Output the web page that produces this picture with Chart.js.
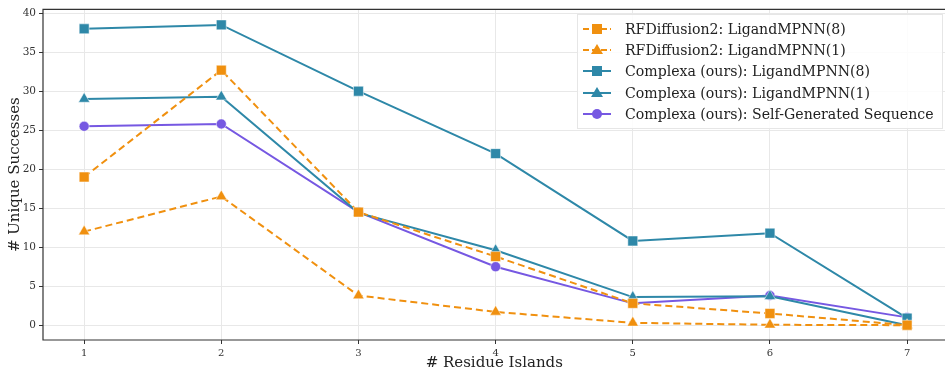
<!DOCTYPE html>
<html>
<head>
<meta charset="utf-8">
<script src="https://cdn.jsdelivr.net/npm/chart.js@4.4.0/dist/chart.umd.min.js"></script>
<style>
  body { margin: 0; background: #fff; overflow: hidden; }
  #wrap { position: relative; width: 945px; height: 372px; overflow: hidden; }
  #legend {
    position: absolute; left: 577px; top: 14px; width: 366px;
    border: 1px solid #e6e6e6; background: rgba(255,255,255,0.85);
    font-family: 'DejaVu Serif', serif; font-size: 14.1px; color: #222;
    padding: 3px 0 4px 0; box-sizing: border-box; white-space: nowrap;
  }
  #legend .row { display: flex; align-items: center; height: 21.3px; }
  #legend svg { margin-left: 5px; margin-right: 14px; }
</style>
</head>
<body>
<div id="wrap">
  <!-- canvas a bit wider than the window: the plot runs off the right edge -->
  <canvas id="chart" width="953" height="372"></canvas>
  <div id="legend"></div>
</div>
<script>
const islands = [1, 2, 3, 4, 5, 6, 7];
const yTicks = [0, 5, 10, 15, 20, 25, 30, 35, 40];

const rfdLmpnn8 = [19.0, 32.7, 14.5, 8.8, 2.8, 1.5, 0.0];
const rfdLmpnn1 = [12.0, 16.5, 3.8, 1.7, 0.3, 0.05, 0.0];
const cxLmpnn8 = [38.0, 38.5, 30.0, 22.0, 10.8, 11.8, 0.9];
const cxLmpnn1 = [29.0, 29.3, 14.4, 9.6, 3.6, 3.7, 0.0];
const cxSelf = [25.5, 25.8, 14.5, 7.5, 2.8, 3.8, 1.0];

const seriesNames = [
  'RFDiffusion2: LigandMPNN(8)',
  'RFDiffusion2: LigandMPNN(1)',
  'Complexa (ours): LigandMPNN(8)',
  'Complexa (ours): LigandMPNN(1)',
  'Complexa (ours): Self-Generated Sequence'
];

const orange = '#f0900f';
const teal = '#2e88a8';
const purple = '#7658e2';

const styles = [
  { color: orange, dash: [7, 4], point: 'rect', r: 7 },
  { color: orange, dash: [7, 4], point: 'triangle', r: 6.5 },
  { color: teal, dash: [], point: 'rect', r: 7 },
  { color: teal, dash: [], point: 'triangle', r: 6.5 },
  { color: purple, dash: [], point: 'circle', r: 5 }
];
const values = [rfdLmpnn8, rfdLmpnn1, cxLmpnn8, cxLmpnn1, cxSelf];

const datasets = values.map((vals, i) => ({
  label: seriesNames[i],
  data: islands.map((x, j) => ({ x: x, y: vals[j] })),
  borderColor: styles[i].color,
  backgroundColor: styles[i].color,
  borderWidth: 2,
  borderDash: styles[i].dash,
  pointStyle: styles[i].point,
  pointRadius: styles[i].r,
  pointBorderWidth: 0.5,
  pointBorderColor: '#ffffff',
  tension: 0
}));

// left, top and bottom spines only
const frame = {
  id: 'frame',
  afterDraw(chart) {
    const a = chart.chartArea, c = chart.ctx;
    c.save();
    c.strokeStyle = '#333';
    c.lineWidth = 1.2;
    c.beginPath();
    c.moveTo(chart.width, a.top);
    c.lineTo(a.left, a.top);
    c.lineTo(a.left, a.bottom);
    c.lineTo(chart.width, a.bottom);
    c.stroke();
    c.restore();
  }
};

const serif = 'DejaVu Serif';

new Chart(document.getElementById('chart'), {
  type: 'line',
  data: { datasets: datasets },
  plugins: [frame],
  options: {
    responsive: false,
    animation: false,
    layout: { padding: { top: 8, right: 0, left: 0, bottom: 0 } },
    plugins: { legend: { display: false }, tooltip: { enabled: false } },
    scales: {
      x: {
        type: 'linear', min: 0.7, max: 7.28,
        afterBuildTicks: ax => { ax.ticks = islands.map(v => ({ value: v })); },
        afterFit: ax => { ax.height = 32; },
        grid: { color: '#e8e8e8', tickColor: '#333', tickLength: 4 },
        border: { display: false },
        ticks: { color: '#333', font: { family: serif, size: 10 }, padding: 3 },
        title: { display: true, text: '# Residue Islands', color: '#222',
          font: { family: serif, size: 15 }, padding: { top: 3, bottom: 0 } }
      },
      y: {
        min: -1.9, max: 40.5,
        afterBuildTicks: ax => { ax.ticks = yTicks.map(v => ({ value: v })); },
        afterFit: ax => { ax.width = 43; },
        grid: { color: '#e8e8e8', tickColor: '#333', tickLength: 4 },
        border: { display: false },
        ticks: { color: '#333', font: { family: serif, size: 10.5 }, padding: 3 },
        title: { display: true, text: '# Unique Successes', color: '#222',
          font: { family: serif, size: 15 }, padding: { top: 6, bottom: 0 } }
      }
    }
  }
});

// legend drawn in html over the plot area
function marker(s) {
  const dash = s.dash.length ? 'stroke-dasharray="6 3"' : '';
  let m = '';
  if (s.point === 'rect') m = `<rect x="9" y="3" width="10" height="10" fill="${s.color}"/>`;
  else if (s.point === 'triangle') m = `<polygon points="14,2 20,12 8,12" fill="${s.color}"/>`;
  else m = `<circle cx="14" cy="8" r="5" fill="${s.color}"/>`;
  return `<svg width="28" height="16"><line x1="0" y1="8" x2="28" y2="8" stroke="${s.color}" stroke-width="2" ${dash}/>${m}</svg>`;
}
document.getElementById('legend').innerHTML = seriesNames.map((n, i) =>
  `<div class="row">${marker(styles[i])}<span>${n}</span></div>`).join('');
</script>
</body>
</html>
